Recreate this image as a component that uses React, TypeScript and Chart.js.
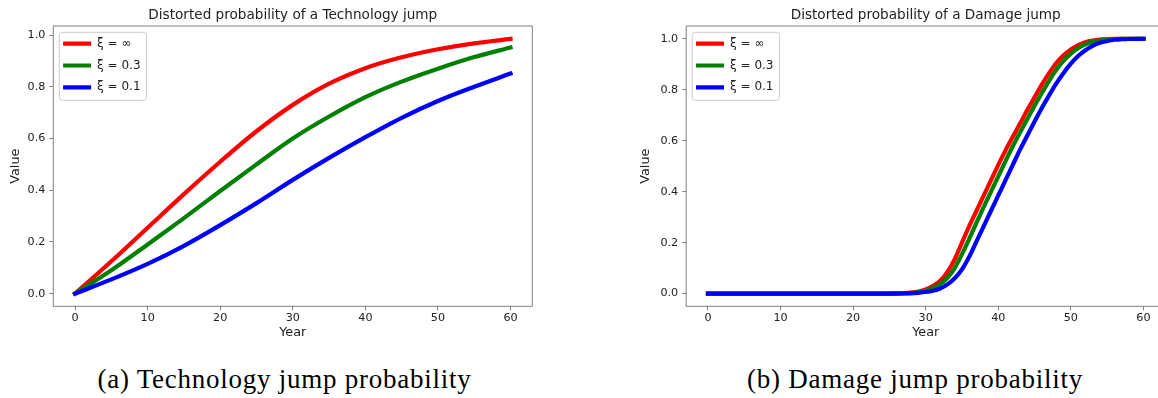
import React, { useEffect, useRef } from 'react';
import { Chart, registerables } from 'chart.js';

Chart.register(...registerables);
Chart.defaults.font.family = "'DejaVu Sans', sans-serif";

// ---------- data ----------
const seriesLabels = ['ξ = ∞', 'ξ = 0.3', 'ξ = 0.1'];
const seriesColors = ['#ff0000', '#008000', '#0000ff'];

const techYears = [0, 5, 10, 15, 20, 25, 30, 35, 40, 45, 50, 55, 60];
const techXiInf = [0, 0.125, 0.255, 0.385, 0.51, 0.628, 0.73, 0.812, 0.872, 0.914, 0.945, 0.968, 0.985];
const techXi03 = [0, 0.09, 0.19, 0.292, 0.397, 0.5, 0.6, 0.685, 0.76, 0.82, 0.87, 0.915, 0.952];
const techXi01 = [0, 0.055, 0.115, 0.185, 0.265, 0.35, 0.44, 0.525, 0.605, 0.68, 0.745, 0.8, 0.851];

const dmgYears = [0, 5, 10, 15, 20, 24, 26, 27, 28, 29, 30, 31, 32, 33, 34, 35, 36, 37, 38, 39, 40, 41, 42, 43, 44, 45, 46, 47, 48, 49, 50, 51, 52, 53, 54, 55, 56, 57, 58, 60];
const dmgXiInf = [0, 0, 0, 0, 0, 0, 0.001, 0.002, 0.004, 0.008, 0.016, 0.03, 0.05, 0.085, 0.135, 0.2, 0.265, 0.325, 0.385, 0.445, 0.505, 0.562, 0.615, 0.667, 0.72, 0.77, 0.82, 0.865, 0.905, 0.935, 0.958, 0.975, 0.986, 0.993, 0.997, 0.999, 1, 1, 1, 1];
const dmgXi03 = [0, 0, 0, 0, 0, 0, 0.0005, 0.0015, 0.003, 0.006, 0.011, 0.021, 0.037, 0.062, 0.1, 0.155, 0.215, 0.278, 0.34, 0.4, 0.46, 0.52, 0.578, 0.632, 0.685, 0.737, 0.787, 0.835, 0.878, 0.914, 0.942, 0.963, 0.978, 0.988, 0.994, 0.997, 0.999, 1, 1, 1];
const dmgXi01 = [0, 0, 0, 0, 0, 0, 0, 0.0005, 0.001, 0.003, 0.006, 0.011, 0.02, 0.036, 0.06, 0.095, 0.145, 0.205, 0.265, 0.325, 0.385, 0.445, 0.505, 0.565, 0.62, 0.675, 0.728, 0.778, 0.825, 0.866, 0.902, 0.932, 0.955, 0.972, 0.984, 0.991, 0.996, 0.998, 0.999, 1];

const chartTitles = ['Distorted probability of a Technology jump', 'Distorted probability of a Damage jump'];
const captions = ['(a) Technology jump probability', '(b) Damage jump probability'];
const xAxisLabel = 'Year';
const yAxisLabel = 'Value';

// ---------- helpers ----------
const TEXT = '#222222';
const SPINE = '#808080';

const mplPlugin = {
  id: 'mplFrame',
  beforeDraw(chart: any) {
    const hb = chart.legend && chart.legend.legendHitBoxes;
    if (!hb || !hb.length) return;
    const ca = chart.chartArea;
    const ctx = chart.ctx;
    const left = ca.left + 6;
    const top = ca.top + 6.3;
    let right = 0;
    hb.forEach((h: any) => { right = Math.max(right, h.left + h.width); });
    right += 6;
    const last = hb[hb.length - 1];
    const bottom = last.top + last.height + 7;
    ctx.save();
    ctx.beginPath();
    ctx.roundRect(left, top, right - left, bottom - top, 3);
    ctx.fillStyle = 'rgba(255,255,255,0.8)';
    ctx.fill();
    ctx.strokeStyle = '#cccccc';
    ctx.lineWidth = 1;
    ctx.stroke();
    ctx.restore();
  },
  afterDatasetsDraw(chart: any) {
    const ca = chart.chartArea;
    const ctx = chart.ctx;
    ctx.save();
    ctx.strokeStyle = SPINE;
    ctx.lineWidth = 1;
    ctx.strokeRect(ca.left, ca.top, ca.right - ca.left, ca.bottom - ca.top);
    ctx.restore();
  },
};

function makeDatasets(years: number[], series: number[][]) {
  return series.map((vals, i) => ({
    label: seriesLabels[i],
    data: years.map((x, j) => ({ x, y: vals[j] })),
    borderColor: seriesColors[i],
    backgroundColor: seriesColors[i],
    borderWidth: 4.2,
    pointRadius: 0,
    cubicInterpolationMode: 'monotone' as const,
    borderCapStyle: 'square' as const,
    fill: false,
    order: 2 - i,
  }));
}

function makeConfig(opts: {
  title: string;
  years: number[];
  series: number[][];
  yMin: number;
  yMax: number;
  yAxisWidth: number;
  xAxisHeight: number;
  padRight: number;
  yTitlePad: number;
}): any {
  return {
    type: 'line',
    data: { datasets: makeDatasets(opts.years, opts.series) },
    plugins: [mplPlugin],
    options: {
      responsive: false,
      maintainAspectRatio: false,
      animation: false,
      events: [],
      layout: { padding: { left: 0, top: 0, right: opts.padRight, bottom: 0 } },
      plugins: {
        tooltip: { enabled: false },
        title: {
          display: true,
          text: opts.title,
          fullSize: false,
          color: TEXT,
          font: { size: 13.6, weight: 'normal', lineHeight: 1.2 },
          padding: { top: 7.1, bottom: 2.6 },
        },
        legend: {
          position: 'chartArea',
          align: 'start',
          // empty spacer title: pushes the legend rows below the plot's top edge
          title: { display: true, text: '', padding: 0, font: { size: 27.9, lineHeight: 1 } },
          labels: {
            boxWidth: 28,
            boxHeight: 4.2,
            padding: 9.8,
            color: TEXT,
            font: { size: 12 },
            generateLabels: (chart: any) =>
              chart.data.datasets.map((ds: any, i: number) => ({
                text: ds.label,
                fillStyle: ds.borderColor,
                strokeStyle: ds.borderColor,
                lineWidth: 0,
                hidden: false,
                datasetIndex: i,
                fontColor: TEXT,
              })),
          },
        },
      },
      scales: {
        x: {
          type: 'linear',
          min: -3,
          max: 63,
          afterFit: (s: any) => { s.height = opts.xAxisHeight; },
          border: { display: false },
          grid: { drawOnChartArea: false, drawTicks: true, tickLength: 4, color: SPINE, tickColor: SPINE, lineWidth: 1 },
          ticks: {
            stepSize: 10,
            includeBounds: false,
            padding: 1.5,
            color: TEXT,
            font: { size: 11.2 },
            maxRotation: 0,
            callback: (v: any) => String(v),
          },
          title: { display: true, text: xAxisLabel, color: TEXT, font: { size: 12.8, lineHeight: 1.2 }, padding: { top: 0, bottom: 9.3 } },
        },
        y: {
          type: 'linear',
          min: opts.yMin,
          max: opts.yMax,
          afterFit: (s: any) => { s.width = opts.yAxisWidth; },
          border: { display: false },
          grid: { drawOnChartArea: false, drawTicks: true, tickLength: 4, color: SPINE, tickColor: SPINE, lineWidth: 1 },
          ticks: {
            stepSize: 0.2,
            includeBounds: false,
            padding: 4,
            color: TEXT,
            font: { size: 11.2 },
            callback: (v: any) => Number(v).toFixed(1),
          },
          title: { display: true, text: yAxisLabel, color: TEXT, font: { size: 12.8, lineHeight: 1.2 }, padding: { top: opts.yTitlePad, bottom: 0 } },
        },
      },
    },
  };
}

function ChartPanel({ config, left, width, height }: { config: any; left: number; width: number; height: number }) {
  const ref = useRef<HTMLCanvasElement>(null);
  useEffect(() => {
    if (!ref.current) return;
    const chart = new Chart(ref.current, config);
    return () => chart.destroy();
  }, []);
  return (
    <canvas
      ref={ref}
      width={width}
      height={height}
      style={{ position: 'absolute', left, top: 0, width, height }}
    />
  );
}

function Caption({ text, center }: { text: string; center: number }) {
  return (
    <div
      style={{
        position: 'absolute',
        left: center - 300,
        width: 600,
        top: 366.4,
        textAlign: 'center',
        fontFamily: "'Liberation Serif', serif",
        fontSize: 27,
        lineHeight: '27px',
        letterSpacing: '0.75px',
        whiteSpace: 'nowrap',
        color: '#000',
      }}
    >
      {text}
    </div>
  );
}

export default function App() {
  const techConfig = makeConfig({
    title: chartTitles[0],
    years: techYears,
    series: [techXiInf, techXi03, techXi01],
    yMin: -0.049,
    yMax: 1.035,
    yAxisWidth: 53.3,
    xAxisHeight: 350 - 306.3,
    padRight: 600 - 532.3,
    yTitlePad: 7.5,
  });
  const dmgConfig = makeConfig({
    title: chartTitles[1],
    years: dmgYears,
    series: [dmgXiInf, dmgXi03, dmgXi01],
    yMin: -0.05,
    yMax: 1.05,
    yAxisWidth: 66.2,
    xAxisHeight: 350 - 306.3,
    padRight: 600 - 545.2,
    yTitlePad: 18,
  });
  return (
    <div
      style={{
        position: 'fixed',
        left: 0,
        top: 0,
        width: 1158,
        height: 398,
        overflow: 'hidden',
        background: '#ffffff',
      }}
    >
      <ChartPanel config={techConfig} left={0} width={600} height={350} />
      <ChartPanel config={dmgConfig} left={620} width={600} height={350} />
      <Caption text={captions[0]} center={284.5} />
      <Caption text={captions[1]} center={915} />
    </div>
  );
}
